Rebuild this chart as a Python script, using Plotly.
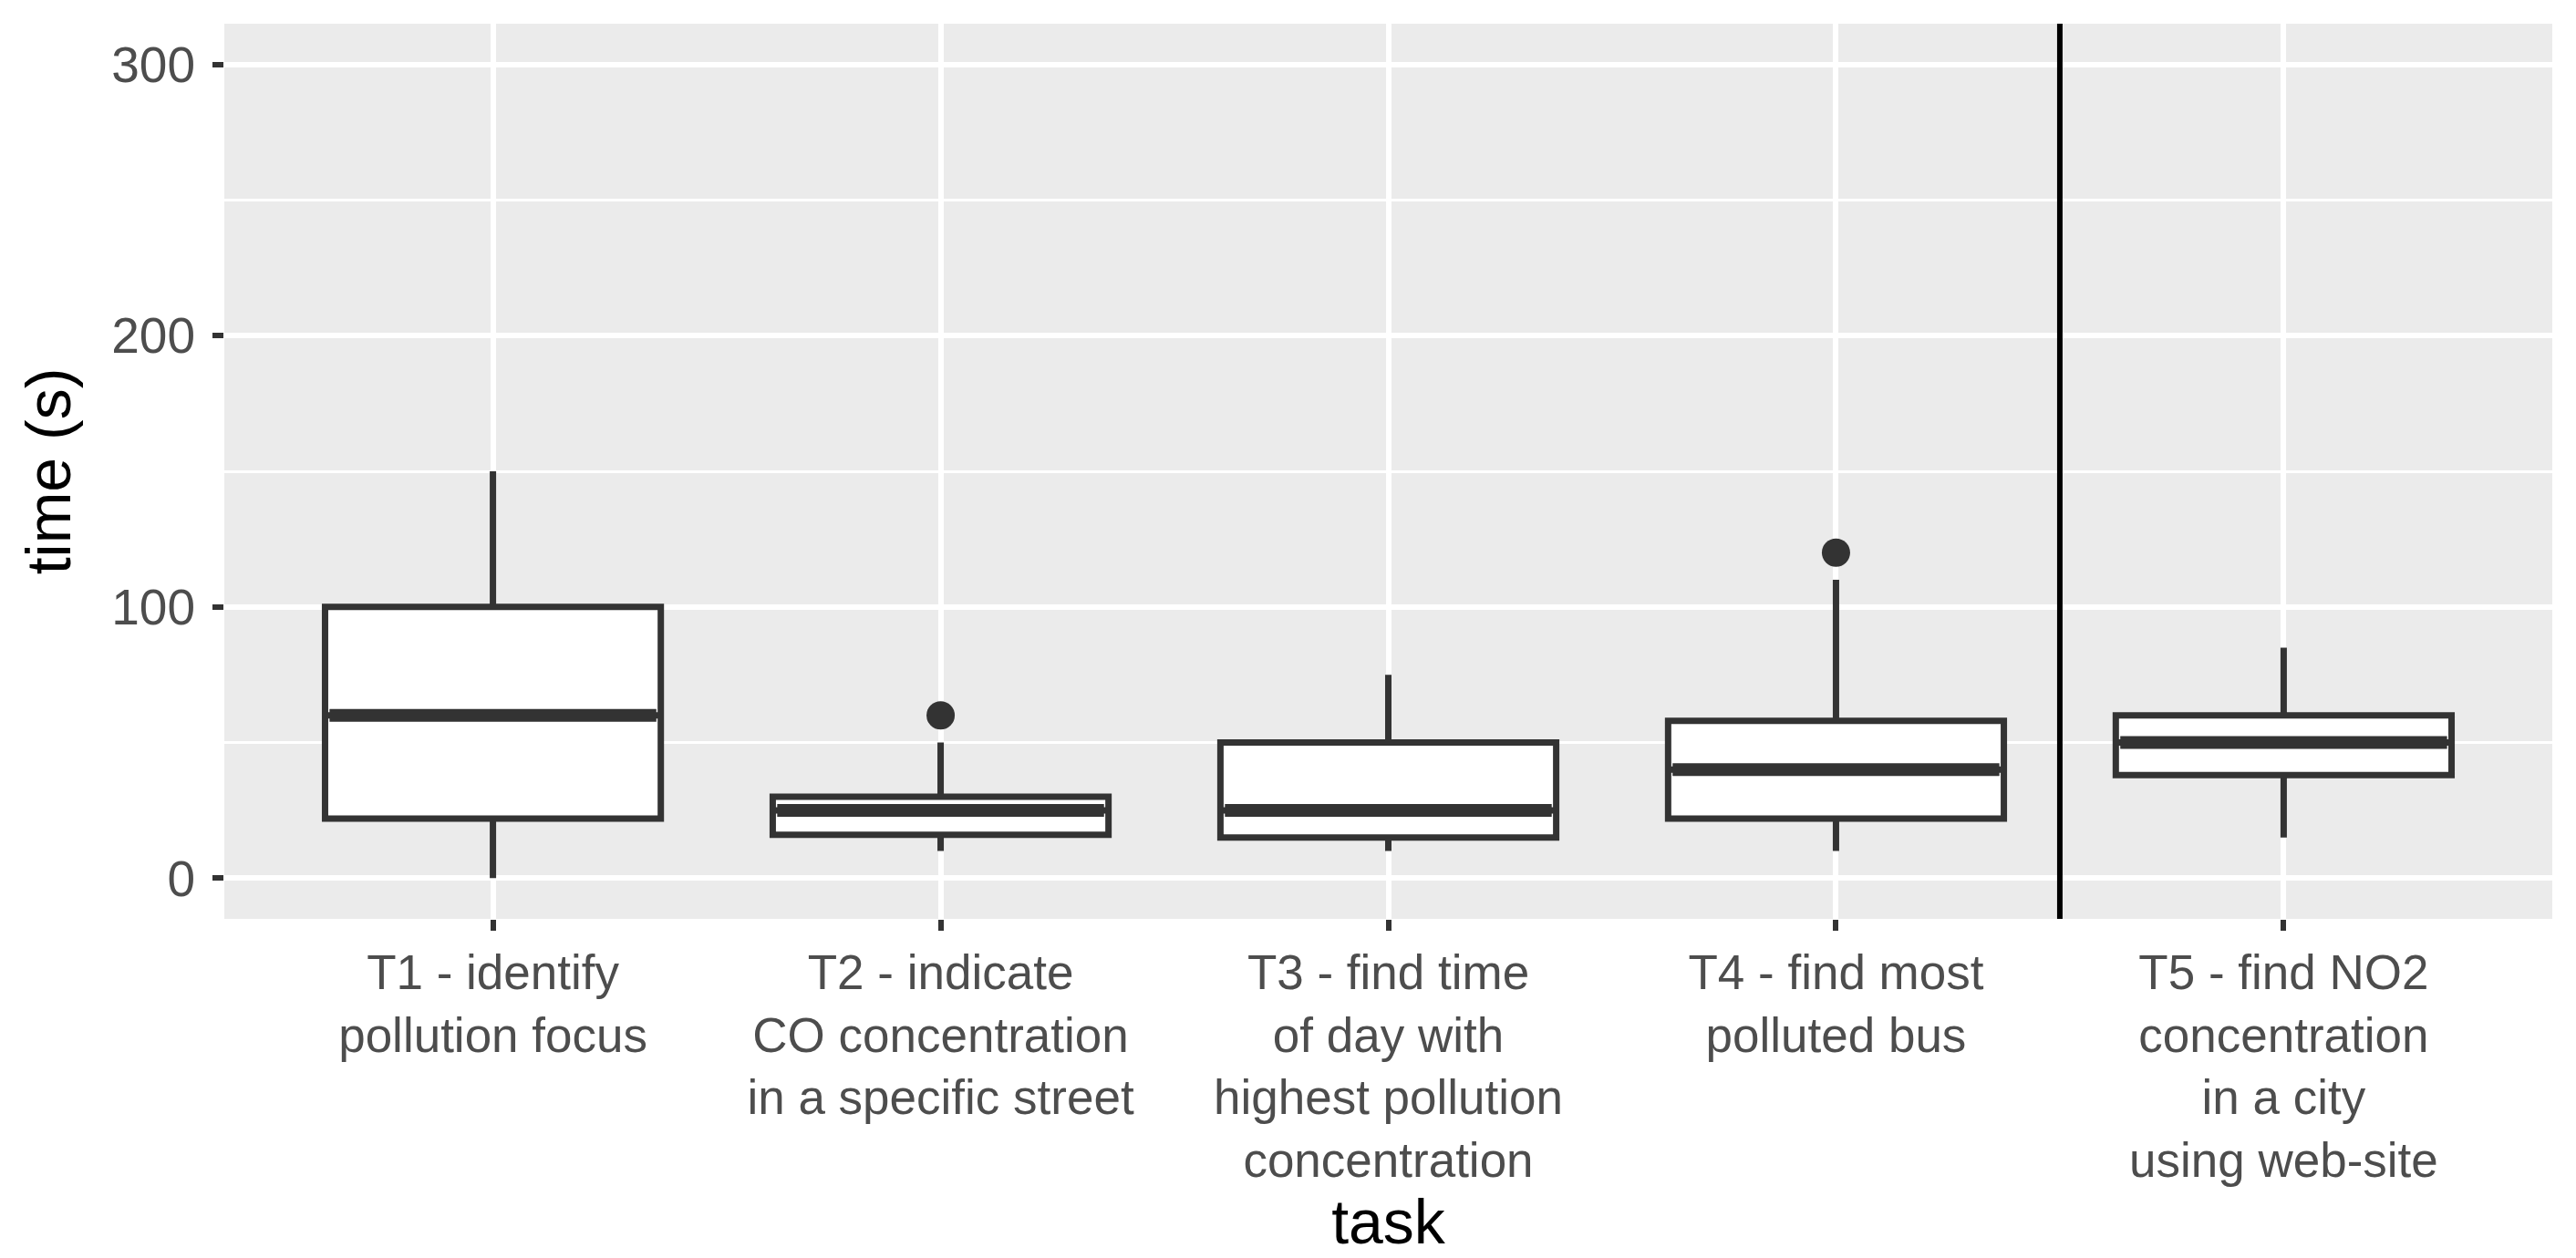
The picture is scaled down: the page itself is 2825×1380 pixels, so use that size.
"""Task completion times, boxplot per task."""

import plotly.graph_objects as go

# category labels (x axis)
tasks = [
    "T1 - identify<br>pollution focus",
    "T2 - indicate<br>CO concentration<br>in a specific street",
    "T3 - find time<br>of day with<br>highest pollution<br>concentration",
    "T4 - find most<br>polluted bus",
    "T5 - find NO2<br>concentration<br>in a city<br>using web-site",
]
task_pos = [1, 2, 3, 4, 5]

# box statistics, seconds
lower_whisker = [0, 10, 10, 10, 15]
q1 = [22, 16, 15, 22, 38]
median = [60, 25, 25, 40, 50]
q3 = [100, 30, 50, 58, 60]
upper_whisker = [150, 50, 75, 110, 85]

# outliers
outlier_task = [2, 4]
outlier_time = [60, 120]

# web-site task is separated from the others
divider_x = 4.5

y_ticks = [0, 100, 200, 300]

BOX_W = 0.75
INK = "#333333"
FONT = "Liberation Sans, Arial, Helvetica, sans-serif"

fig = go.Figure()

fig.add_trace(
    go.Box(
        x=task_pos,
        q1=q1,
        median=median,
        q3=q3,
        lowerfence=lower_whisker,
        upperfence=upper_whisker,
        width=BOX_W,
        fillcolor="white",
        line=dict(color=INK, width=7),
        boxpoints=False,
        whiskerwidth=0,
        hoverinfo="skip",
    )
)

# thicker median bar like ggplot
mx, my = [], []
for p, m in zip(task_pos, median):
    mx += [p - BOX_W / 2 + 0.01, p + BOX_W / 2 - 0.01, None]
    my += [m, m, None]
fig.add_trace(go.Scatter(x=mx, y=my, mode="lines", line=dict(color=INK, width=14), hoverinfo="skip"))

fig.add_trace(
    go.Scatter(
        x=outlier_task,
        y=outlier_time,
        mode="markers",
        marker=dict(color=INK, size=31),
        hoverinfo="skip",
    )
)

fig.add_shape(
    type="line",
    x0=divider_x,
    x1=divider_x,
    y0=0,
    y1=1,
    xref="x",
    yref="paper",
    line=dict(color="black", width=6),
)

fig.update_layout(
    width=2825,
    height=1380,
    margin=dict(l=238, r=34, t=18, b=380),
    paper_bgcolor="white",
    plot_bgcolor="#EBEBEB",
    showlegend=False,
    font=dict(family=FONT, size=53, color="#4D4D4D"),
)

fig.update_xaxes(
    range=[0.4, 5.6],
    tickvals=task_pos,
    ticktext=tasks,
    showgrid=True,
    gridcolor="white",
    gridwidth=6,
    zeroline=False,
    ticks="outside",
    ticklen=12,
    tickwidth=6,
    tickcolor=INK,
    tickfont=dict(size=53, color="#4D4D4D"),
    title=dict(text="task", font=dict(size=68, color="black"), standoff=2),
)

fig.update_yaxes(
    range=[-15, 315],
    tickvals=y_ticks,
    showgrid=True,
    gridcolor="white",
    gridwidth=6,
    zeroline=False,
    ticks="outside",
    ticklen=12,
    tickwidth=6,
    tickcolor=INK,
    tickfont=dict(size=55, color="#4D4D4D"),
    ticklabelstandoff=8,
    minor=dict(tickvals=[50, 150, 250], showgrid=True, gridcolor="white", gridwidth=3, ticks=""),
    title=dict(text="time (s)", font=dict(size=68, color="black"), standoff=22),
)

fig.write_html("out.html")
